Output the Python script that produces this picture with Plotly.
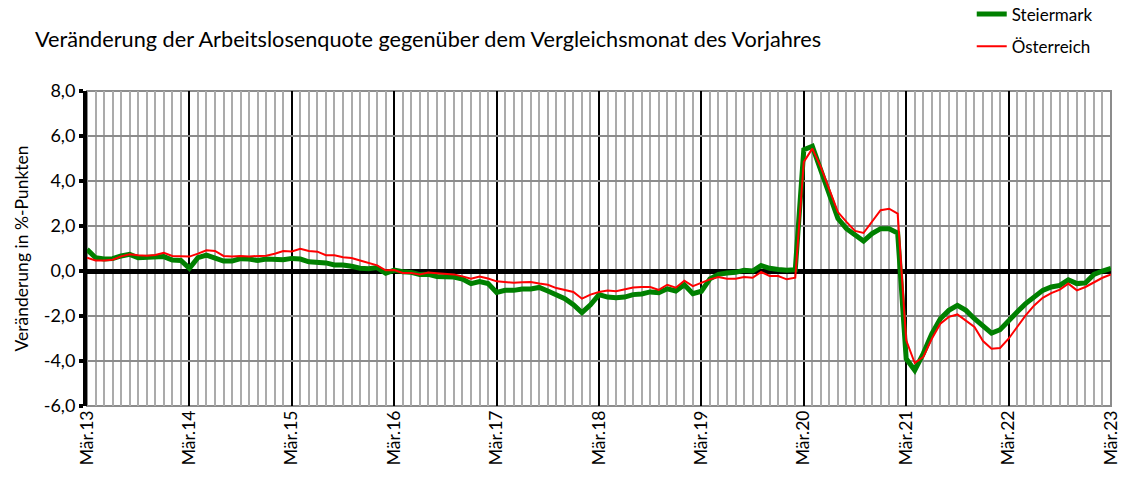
import plotly.graph_objects as go

# Monthly values Mär.13 ... Mär.23 (121 months)
steiermark = [
    0.96, 0.59, 0.53, 0.55, 0.67, 0.74, 0.59, 0.59, 0.62, 0.64, 0.49, 0.47,
    0.12, 0.59, 0.71, 0.56, 0.44, 0.44, 0.55, 0.53, 0.47, 0.53, 0.52, 0.50,
    0.56, 0.53, 0.41, 0.41, 0.36, 0.27, 0.27, 0.21, 0.12, 0.10, 0.15, -0.10,
    0.04, -0.03, -0.06, -0.16, -0.15, -0.24, -0.27, -0.27, -0.36, -0.56, -0.47, -0.56,
    -0.95, -0.86, -0.86, -0.80, -0.80, -0.73, -0.89, -1.08, -1.23, -1.50, -1.85, -1.50,
    -1.05, -1.16, -1.19, -1.16, -1.05, -1.02, -0.93, -0.96, -0.79, -0.89, -0.61, -1.01,
    -0.90, -0.35, -0.15, -0.09, -0.06, 0.03, 0.00, 0.24, 0.12, 0.07, 0.03, 0.06,
    5.39, 5.54, 4.47, 3.36, 2.33, 1.88, 1.59, 1.33, 1.66, 1.88, 1.88, 1.69,
    -3.90, -4.41, -3.67, -2.79, -2.12, -1.75, -1.53, -1.75, -2.12, -2.41, -2.76, -2.61,
    -2.19, -1.82, -1.45, -1.13, -0.86, -0.71, -0.64, -0.39, -0.56, -0.53, -0.15, 0.00,
    0.12,
]
oesterreich = [
    0.59, 0.47, 0.47, 0.50, 0.65, 0.74, 0.70, 0.68, 0.71, 0.81, 0.67, 0.64,
    0.64, 0.77, 0.92, 0.89, 0.67, 0.65, 0.67, 0.65, 0.65, 0.68, 0.77, 0.89,
    0.87, 0.99, 0.89, 0.86, 0.70, 0.70, 0.61, 0.58, 0.47, 0.37, 0.25, 0.03,
    0.04, -0.09, -0.09, -0.15, -0.07, -0.10, -0.13, -0.15, -0.24, -0.34, -0.25, -0.33,
    -0.46, -0.50, -0.52, -0.50, -0.49, -0.56, -0.61, -0.76, -0.84, -0.93, -1.23, -1.05,
    -0.93, -0.87, -0.90, -0.81, -0.73, -0.71, -0.71, -0.84, -0.61, -0.74, -0.43, -0.67,
    -0.53, -0.37, -0.27, -0.34, -0.34, -0.27, -0.30, -0.04, -0.22, -0.22, -0.37, -0.30,
    4.85, 5.44, 4.62, 3.66, 2.62, 2.18, 1.78, 1.69, 2.18, 2.70, 2.77, 2.55,
    -3.08, -4.09, -3.82, -3.01, -2.34, -2.04, -1.93, -2.19, -2.49, -3.11, -3.45, -3.42,
    -3.01, -2.49, -1.97, -1.53, -1.19, -0.98, -0.83, -0.56, -0.86, -0.71, -0.49, -0.30,
    -0.15,
]
tick_labels = ["Mär.13", "Mär.14", "Mär.15", "Mär.16", "Mär.17", "Mär.18",
               "Mär.19", "Mär.20", "Mär.21", "Mär.22", "Mär.23"]
tick_positions = [12 * i for i in range(len(tick_labels))]
y_tick_values = [-6, -4, -2, 0, 2, 4, 6, 8]
y_tick_labels = ["-6,0", "-4,0", "-2,0", "0,0", "2,0", "4,0", "6,0", "8,0"]
months = list(range(len(steiermark)))

FONT = "Lato, Carlito, 'Open Sans', sans-serif"

fig = go.Figure()
fig.add_trace(go.Scatter(x=months, y=steiermark, mode="lines", name="Steiermark",
                         legendgroup="a", line=dict(color="#008000", width=5)))
fig.add_trace(go.Scatter(x=months, y=oesterreich, mode="lines", name="Österreich",
                         legendgroup="b", line=dict(color="#FF0000", width=2)))

fig.update_layout(
    width=1127, height=479,
    margin=dict(l=87, r=16, t=91, b=73, autoexpand=False),
    paper_bgcolor="white", plot_bgcolor="white",
    separators=",.",
    font=dict(family=FONT, color="#000000", size=17),
    title=dict(text="Veränderung der Arbeitslosenquote gegenüber dem Vergleichsmonat des Vorjahres",
               x=35 / 1127, xanchor="left", xref="container",
               y=1 - 39 / 479, yanchor="middle", yref="container",
               font=dict(size=21.7, family=FONT)),
    legend=dict(x=0.864, xanchor="left", y=1.30, yanchor="top",
                traceorder="grouped", tracegroupgap=7,
                font=dict(size=17, family=FONT), bgcolor="rgba(0,0,0,0)"),
    showlegend=True,
)

fig.update_xaxes(
    range=[0, 120],
    tickmode="array", tickvals=tick_positions, ticktext=tick_labels,
    tickangle=-90, tickfont=dict(size=17.5),
    showgrid=True, gridcolor="#000000", gridwidth=2,
    minor=dict(tickmode="linear", tick0=0, dtick=1, showgrid=True,
               gridcolor="#ababab", gridwidth=1.5),
    zeroline=False, showline=False, ticks="",
)
fig.update_yaxes(
    range=[-6, 8], tickmode="array", tickvals=y_tick_values, ticktext=y_tick_labels,
    tickfont=dict(size=18),
    showgrid=True, gridcolor="#8c8c8c", gridwidth=1.5,
    zeroline=True, zerolinecolor="#000000", zerolinewidth=5,
    showline=True, linecolor="#000000", linewidth=4,
    ticks="outside", ticklen=4, tickwidth=4, tickcolor="#000000",
    title=dict(text="Veränderung in %-Punkten", font=dict(size=17.5), standoff=12),
)

# plot frame (top, right, bottom)
fig.add_shape(type="rect", xref="paper", yref="paper", x0=0, x1=1, y0=0, y1=1,
              line=dict(color="#8c8c8c", width=2), layer="below")

fig.write_html("out.html", config={"displayModeBar": False},
               post_script="document.body.style.margin='0';document.body.style.padding='0';")
